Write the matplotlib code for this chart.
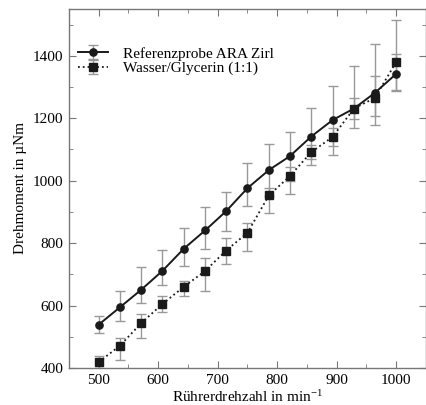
import matplotlib
matplotlib.use("Agg")
import matplotlib.pyplot as plt
import numpy as np
from matplotlib.ticker import MultipleLocator

plt.rcParams['font.family'] = ['Liberation Serif', 'DejaVu Serif']
plt.rcParams['mathtext.fontset'] = 'custom'
plt.rcParams['mathtext.rm'] = 'Liberation Serif'
plt.rcParams['mathtext.default'] = 'regular'

speed = [500, 536, 571, 607, 643, 679, 714, 750, 786, 821, 857, 893, 929, 964, 1000]

ref = [539, 595, 650, 711, 782, 841, 902, 976, 1034, 1078, 1141, 1194, 1231, 1281, 1342]
ref_lo = [513, 552, 608, 667, 727, 781, 838, 918, 950, 1000, 1051, 1083, 1170, 1179, 1286]
ref_hi = [568, 646, 723, 779, 848, 916, 963, 1057, 1118, 1156, 1233, 1304, 1367, 1437, 1407]

glyc = [419, 472, 543, 605, 660, 711, 776, 833, 953, 1014, 1091, 1140, 1231, 1265, 1380]
glyc_lo = [400, 426, 497, 579, 632, 648, 733, 776, 895, 958, 1068, 1110, 1198, 1207, 1290]
glyc_hi = [439, 495, 572, 629, 680, 751, 816, 864, 978, 1043, 1115, 1170, 1266, 1335, 1516]

labels = ["Referenzprobe ARA Zirl", "Wasser/Glycerin (1:1)"]

fig = plt.figure(figsize=(4.27, 4.05), dpi=100)
ax = fig.add_axes([0.1616, 0.0914, 0.836, 0.8866])

def err(v, lo, hi):
    v = np.array(v); lo = np.array(lo); hi = np.array(hi)
    return [v - lo, hi - v]

ecol = '#999999'
ax.errorbar(speed, ref, yerr=err(ref, ref_lo, ref_hi), fmt='-o', color='#1a1a1a',
            lw=1.4, ms=5.2, ecolor=ecol, elinewidth=1, capsize=3.5, capthick=1,
            label=labels[0])
ax.errorbar(speed, glyc, yerr=err(glyc, glyc_lo, glyc_hi), fmt=':s', color='#1a1a1a',
            lw=1.3, ms=5.5, ecolor=ecol, elinewidth=1, capsize=3.5, capthick=1,
            label=labels[1])

ax.set_xlim(450, 1050)
ax.set_ylim(400, 1550)
ax.xaxis.set_major_locator(MultipleLocator(100))
ax.xaxis.set_minor_locator(MultipleLocator(50))
ax.yaxis.set_major_locator(MultipleLocator(200))
ax.yaxis.set_minor_locator(MultipleLocator(100))
ax.tick_params(which='both', direction='in', top=True, right=True, color='#777777',
               labelsize=11, pad=4)
ax.tick_params(which='major', length=5)
ax.tick_params(which='minor', length=3)
for s in ax.spines.values():
    s.set_color('#777777')
    s.set_linewidth(1)

ax.set_xlabel("Rührerdrehzahl in min$^{-1}$", fontsize=11, labelpad=2)
ax.set_ylabel("Drehmoment in µNm", fontsize=11, labelpad=4)

leg = ax.legend(loc='upper left', bbox_to_anchor=(0.0, 0.92), frameon=False,
                fontsize=11, handlelength=1.95, handletextpad=1.0, labelspacing=0.05,
                borderaxespad=0.2)

fig.savefig("out.png", dpi=100)
